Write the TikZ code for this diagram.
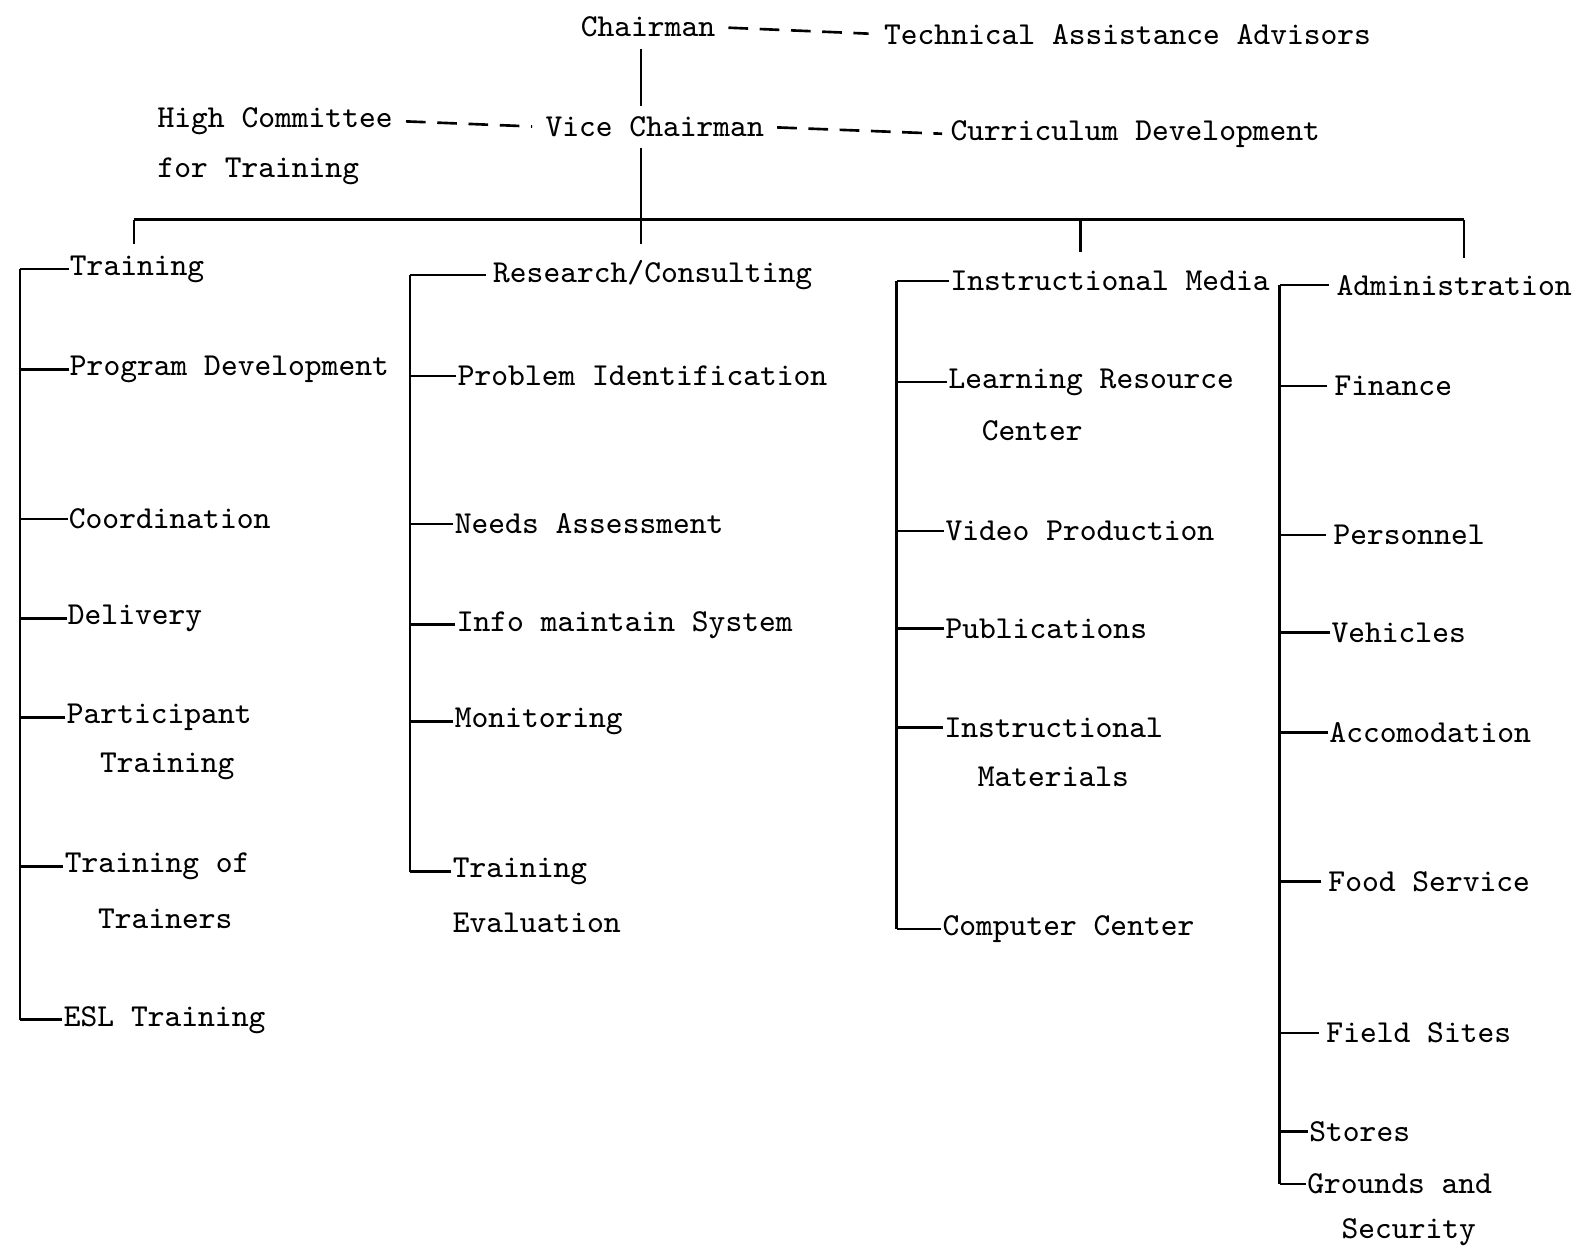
\documentclass[tikz,border=0pt]{standalone}
\usepackage{tikz}
\usetikzlibrary{positioning}

\begin{document}
\begin{tikzpicture}[x=1.0077cm, y=1.0077cm,
    every node/.style={font=\fontsize{9.1}{11}\selectfont\ttfamily, inner xsep=0.2pt, inner ysep=1pt, anchor=west},
    orgline/.style={line width=0.75pt},
    dashline/.style={line width=0.75pt, dash pattern=on 5.6pt off 3.3pt}]

  \useasboundingbox (0,0) rectangle (15.68,-12.38);

  % top of the chart
  \node (chair)      at (5.75, -0.27)  {Chairman};
  \node (advisors)   at (8.76, -0.34)  {Technical Assistance Advisors};
  \node (committee)  at (1.55, -1.20)  {High Committee};
  \node (committee2) at (1.55, -1.70)  {for Training};
  \node (vice)       at (5.40, -1.26)  {Vice Chairman};
  \node (curriculum) at (9.42, -1.33)  {Curriculum Development};

  \coordinate (bus)  at (6.36, -2.18);
  \coordinate (busL) at (1.33, -2.18);
  \coordinate (busR) at (14.53, -2.18);
  \coordinate (d1) at (1.33, -2.42);
  \coordinate (d2) at (6.36, -2.42);
  \coordinate (d3) at (10.72, -2.50);
  \coordinate (d4) at (14.53, -2.56);

  \draw[dashline, shorten <=3.4pt, shorten >=4pt] (chair.east) -- (advisors.west);
  \draw[dashline, shorten <=3.4pt, shorten >=3.4pt] (committee.east) -- (vice.west);
  \draw[dashline, shorten <=3.4pt, shorten >=2pt] (vice.east) -- (curriculum.west);
  \draw[orgline] ([yshift=-2pt]chair.south -| bus) -- ([yshift=2pt]vice.north -| bus);
  \draw[orgline] ([yshift=-2pt]vice.south -| bus) -- (bus);
  \draw[orgline] (busL) -- (busR);
  \draw[orgline] (busL) -- (d1);
  \draw[orgline] (bus) -- (d2);
  \draw[orgline] (d3 |- bus) -- (d3);
  \draw[orgline] (busR) -- (d4);

  % Training
  \coordinate (sA) at (0.20, 0);
  \node (tA1)  at (0.68, -2.67)  {Training};
  \node (tA2)  at (0.68, -3.67)  {Program Development};
  \node (tA3)  at (0.67, -5.15)  {Coordination};
  \node (tA4)  at (0.66, -6.14)  {Delivery};
  \node (tA5)  at (0.65, -7.12)  {Participant};
  \node (tA5b) at (0.98, -7.61)  {Training};
  \node (tA6)  at (0.63, -8.60)  {Training of};
  \node (tA6b) at (0.96, -9.12)  {Trainers};
  \node (tA7)  at (0.62, -10.12) {ESL Training};

  \draw[orgline] (sA |- tA1.west) -- (sA |- tA7.west);
  \draw[orgline] (tA1.west) -- (tA1.west -| sA);
  \draw[orgline] (tA2.west) -- (tA2.west -| sA);
  \draw[orgline] (tA3.west) -- (tA3.west -| sA);
  \draw[orgline] (tA4.west) -- (tA4.west -| sA);
  \draw[orgline] (tA5.west) -- (tA5.west -| sA);
  \draw[orgline] (tA6.west) -- (tA6.west -| sA);
  \draw[orgline] (tA7.west) -- (tA7.west -| sA);

  % Research/Consulting
  \coordinate (sB) at (4.07, 0);
  \node (tB1)  at (4.88, -2.73)  {Research/Consulting};
  \node (tB2)  at (4.53, -3.73)  {Problem Identification};
  \node (tB3)  at (4.50, -5.20)  {Needs Assessment};
  \node (tB4)  at (4.52, -6.20)  {Info maintain System};
  \node (tB5)  at (4.50, -7.16)  {Monitoring};
  \node (tB6)  at (4.48, -8.65)  {Training};
  \node (tB6b) at (4.48, -9.16)  {Evaluation};

  \draw[orgline] (sB |- tB1.west) -- (sB |- tB6.west);
  \draw[orgline] ([xshift=-0.6mm]tB1.west) -- (tB1.west -| sB);
  \draw[orgline] (tB2.west) -- (tB2.west -| sB);
  \draw[orgline] (tB3.west) -- (tB3.west -| sB);
  \draw[orgline] (tB4.west) -- (tB4.west -| sB);
  \draw[orgline] (tB5.west) -- (tB5.west -| sB);
  \draw[orgline] (tB6.west) -- (tB6.west -| sB);

  % Instructional Media
  \coordinate (sC) at (8.90, 0);
  \node (tC1)  at (9.42, -2.79)  {Instructional Media};
  \node (tC2)  at (9.40, -3.79)  {Learning Resource};
  \node (tC2b) at (9.73, -4.27)  {Center};
  \node (tC3)  at (9.37, -5.27)  {Video Production};
  \node (tC4)  at (9.37, -6.24)  {Publications};
  \node (tC5)  at (9.36, -7.22)  {Instructional};
  \node (tC5b) at (9.69, -7.71)  {Materials};
  \node (tC6)  at (9.34, -9.22)  {Computer Center};

  \draw[orgline] (sC |- tC1.west) -- (sC |- tC6.west);
  \draw[orgline] (tC1.west) -- (tC1.west -| sC);
  \draw[orgline] (tC2.west) -- (tC2.west -| sC);
  \draw[orgline] (tC3.west) -- (tC3.west -| sC);
  \draw[orgline] (tC4.west) -- (tC4.west -| sC);
  \draw[orgline] (tC5.west) -- (tC5.west -| sC);
  \draw[orgline] (tC6.west) -- (tC6.west -| sC);

  % Administration
  \coordinate (sD) at (12.70, 0);
  \node (tD1)  at (13.25, -2.83)  {Administration};
  \node (tD2)  at (13.23, -3.83)  {Finance};
  \node (tD3)  at (13.22, -5.31)  {Personnel};
  \node (tD4)  at (13.20, -6.28)  {Vehicles};
  \node (tD5)  at (13.18, -7.27)  {Accomodation};
  \node (tD6)  at (13.17, -8.75)  {Food Service};
  \node (tD7)  at (13.15, -10.25) {Field Sites};
  \node (tD8)  at (12.98, -11.23) {Stores};
  \node (tD9)  at (12.96, -11.75) {Grounds and};
  \node (tD9b) at (13.30, -12.23) {Security};

  \draw[orgline] (sD |- tD1.west) -- (sD |- tD9.west);
  \draw[orgline] ([xshift=-0.6mm]tD1.west) -- (tD1.west -| sD);
  \draw[orgline] ([xshift=-0.6mm]tD2.west) -- (tD2.west -| sD);
  \draw[orgline] ([xshift=-0.6mm]tD3.west) -- (tD3.west -| sD);
  \draw[orgline] (tD4.west) -- (tD4.west -| sD);
  \draw[orgline] (tD5.west) -- (tD5.west -| sD);
  \draw[orgline] ([xshift=-0.6mm]tD6.west) -- (tD6.west -| sD);
  \draw[orgline] ([xshift=-0.6mm]tD7.west) -- (tD7.west -| sD);
  \draw[orgline] (tD8.west) -- (tD8.west -| sD);
  \draw[orgline] (tD9.west) -- (tD9.west -| sD);
\end{tikzpicture}
\end{document}
